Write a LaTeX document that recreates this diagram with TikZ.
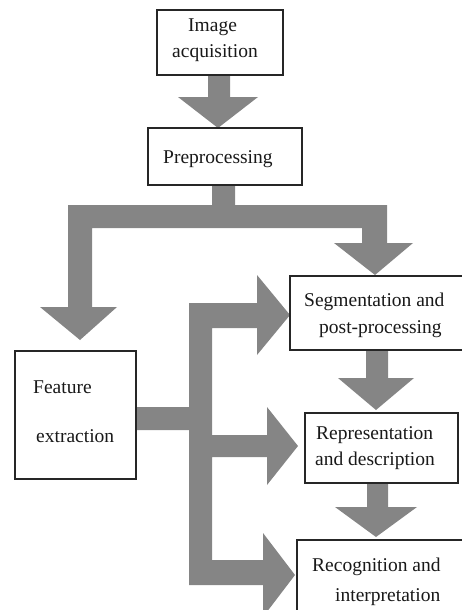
\documentclass[tikz,border=0pt]{standalone}
\usepackage{fontspec}
\setmainfont{Liberation Serif}
\begin{document}
\begin{tikzpicture}[x=1pt,y=-1pt,
  box/.style={draw=black!85,line width=1.4pt},
  lbl/.style={anchor=base west,inner sep=0pt,font=\fontsize{19.5}{22}\selectfont,text=black!90},
  blockarrow/.style={fill=black!48,draw=none}]
\useasboundingbox (0,0) rectangle (461,610);
% gray block arrows
\fill[blockarrow] (208,75) -- (230,75) -- (230,97) -- (258,97) -- (218,128) -- (178,97) -- (208,97) -- cycle;
\fill[blockarrow] (212,185) -- (235,185) -- (235,205) -- (387,205) -- (387,243) -- (413,243) -- (375,275)
  -- (334,243) -- (362,243) -- (362,228) -- (92,228) -- (92,307) -- (117,307) -- (80,340)
  -- (40,307) -- (68,307) -- (68,205) -- (212,205) -- cycle;
\fill[blockarrow] (136,407) -- (189,407) -- (189,303) -- (257,303) -- (257,275) -- (290,315) -- (257,355)
  -- (257,328) -- (212,328) -- (212,435) -- (267,435) -- (267,407) -- (298,446) -- (267,485)
  -- (267,457) -- (212,457) -- (212,560) -- (263,560) -- (263,533) -- (295,575) -- (263,617)
  -- (263,585) -- (189,585) -- (189,430) -- (136,430) -- cycle;
\fill[blockarrow] (366,350) -- (388,350) -- (388,378) -- (414,378) -- (376,410) -- (338,378) -- (366,378) -- cycle;
\fill[blockarrow] (367,483) -- (388,483) -- (388,507) -- (417,507) -- (376,537) -- (335,507) -- (367,507) -- cycle;
% boxes
\draw[box,fill=white] (157,10) rectangle (283,75);
\draw[box,fill=white] (148,128) rectangle (302,185);
\draw[box,fill=white] (290,276) rectangle (475,350);
\draw[box,fill=white] (15,351) rectangle (136,479);
\draw[box,fill=white] (305,413) rectangle (458,483);
\draw[box,fill=white] (297,540) rectangle (475,625);
% labels
\node[lbl] (t1) at (188,32) {Image};
\node[lbl] (t2) at (172,57) {acquisition};
\node[lbl] (t3) at (163,163) {Preprocessing};
\node[lbl] (t4) at (304,306) {Segmentation and};
\node[lbl] (t5) at (319,333) {post-processing};
\node[lbl] (t6) at (33,393) {Feature};
\node[lbl] (t7) at (36,442) {extraction};
\node[lbl] (t8) at (316,439) {Representation};
\node[lbl] (t9) at (315,465) {and description};
\node[lbl] (t10) at (312,571) {Recognition and};
\node[lbl] (t11) at (335,601) {interpretation};
\end{tikzpicture}
\end{document}
